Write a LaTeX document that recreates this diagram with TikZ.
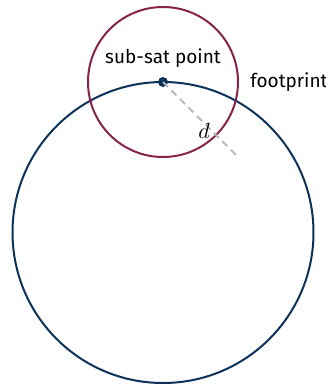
\documentclass[tikz,border=0pt]{standalone}
\usepackage{fontspec}
\setmainfont{Fira Sans}
\usetikzlibrary{positioning}
\definecolor{earthblue}{RGB}{12, 50, 90}
\definecolor{footmaroon}{RGB}{135, 35, 75}
\definecolor{dashgray}{RGB}{185, 185, 185}

\begin{document}
\begin{tikzpicture}[
    x=0.5pt, y=-0.5pt,
    earthline/.style={draw=earthblue, line width=1pt},
    footline/.style={draw=footmaroon, line width=1pt},
    ssdot/.style={circle, fill=earthblue, inner sep=0pt, minimum size=5pt},
    rangeline/.style={draw=dashgray, line width=1pt, dash pattern=on 3.5pt off 2.5pt},
    txtlabel/.style={font=\fontsize{9.5}{11}\selectfont, inner sep=0pt}
]
\useasboundingbox (0,0) rectangle (326,387);

% Earth and footprint
\draw [earthline] (163,232.5) circle [radius=150.5];
\draw [footline] (163,82) circle [radius=75];

% Sub-satellite point
\node (ssp) [ssdot] at (163,82) {};
\coordinate (rim) at (237,156);
\draw [rangeline] (ssp.center) -- (rim);
\node (dist) [txtlabel, font=\fontsize{11}{13}\selectfont, anchor=base] at (204,138) {$d$};

% Labels
\node (ssptext) [txtlabel, anchor=base] at (163,63) {sub-sat point};
\node (foottext) [txtlabel, anchor=base west] at (250,87) {footprint};

\end{tikzpicture}
\end{document}
